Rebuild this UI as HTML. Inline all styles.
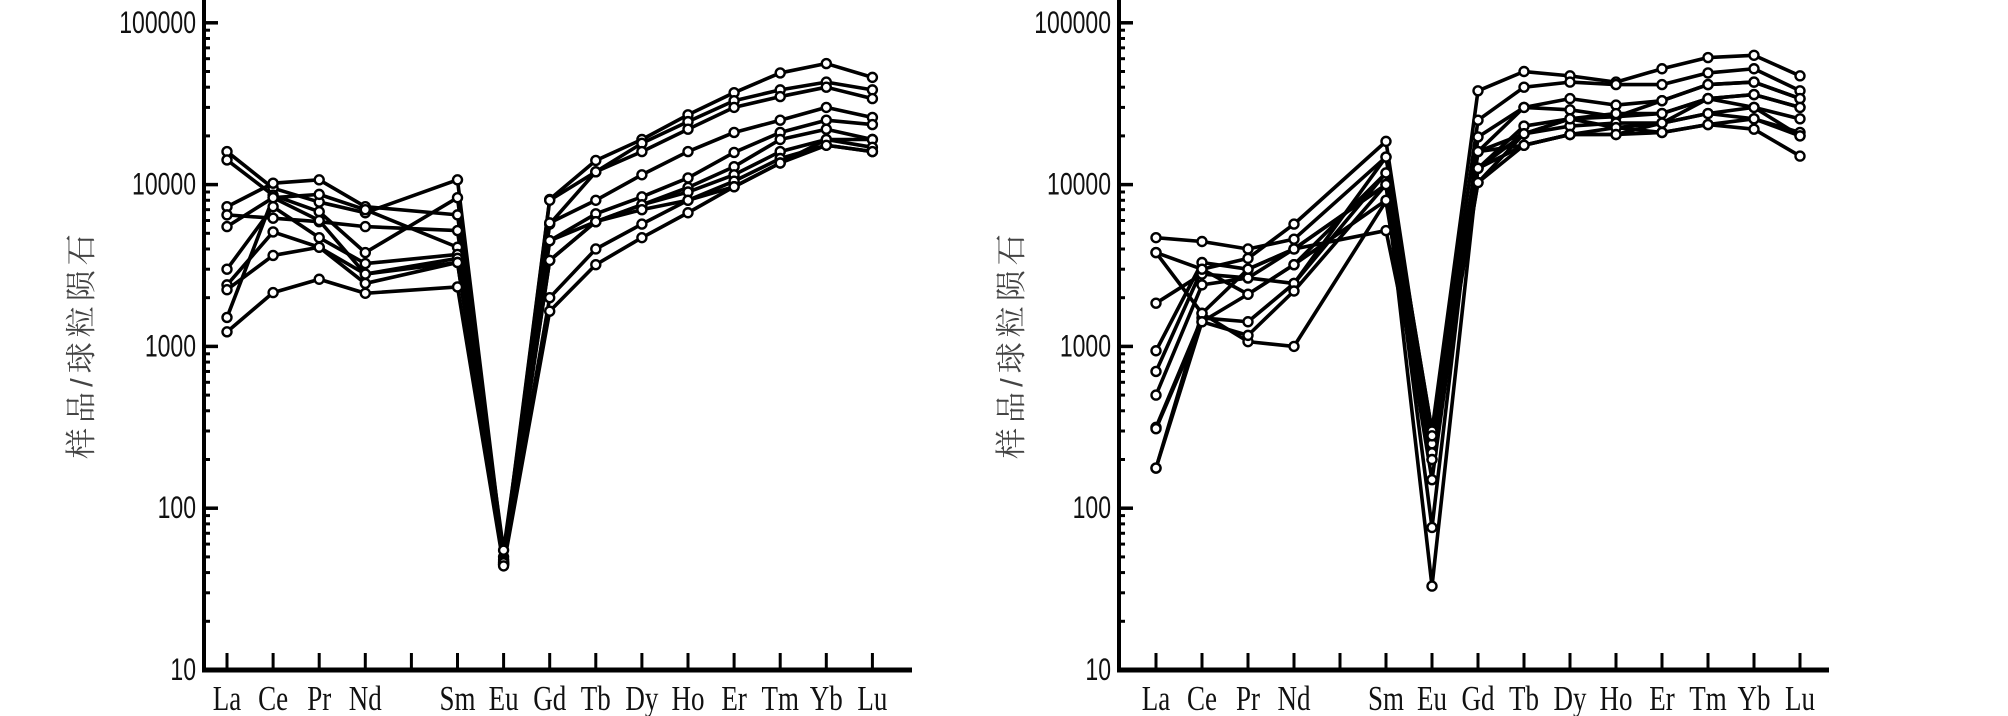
<!DOCTYPE html>
<html><head><meta charset="utf-8">
<style>
html,body{margin:0;padding:0;background:#fff;}
svg{display:block;}
.yt{font-family:"Liberation Sans",sans-serif;font-size:23px;fill:#111;}
.xt{font-family:"Liberation Serif",serif;font-size:27px;fill:#111;}
.ttl{font-family:"Liberation Sans","Noto Serif CJK SC","Noto Sans CJK SC",sans-serif;font-size:31px;fill:#444;letter-spacing:5px;}
</style></head>
<body>
<svg id="chart" width="2008" height="716" viewBox="0 0 2008 716" xmlns="http://www.w3.org/2000/svg"></svg>
<script>
const categories = ["La","Ce","Pr","Nd","","Sm","Eu","Gd","Tb","Dy","Ho","Er","Tm","Yb","Lu"];
const yTickValues = [10,100,1000,10000,100000];
const yTickLabels = ["10","100","1000","10000","100000"];
// series values: [La,Ce,Pr,Nd,Sm,Eu,Gd,Tb,Dy,Ho,Er,Tm,Yb,Lu]
const leftSeries = [
 [16000,9500,7800,6700,10700,50,8100,14100,19000,27000,37000,49000,56000,46000],
 [14200,8600,6800,3800,8300,48,8000,12000,18000,24500,33000,38500,43000,38500],
 [7300,10200,10700,7300,6500,55,5700,12000,16000,22000,30000,35000,40000,34000],
 [6500,6200,5900,5500,5200,45,5800,8000,11500,16000,21000,25000,30000,26000],
 [5500,8300,8700,7000,4100,47,4500,6600,8400,11000,15800,21000,25000,23500],
 [3000,7300,4700,3250,3700,45,4500,5900,7500,9600,12900,19000,22000,19000],
 [2400,5100,4100,2800,3500,46,3400,5900,7500,9000,11500,16000,19000,19000],
 [2240,3650,4100,2450,3300,45,3400,5900,7000,8000,10500,14500,17500,16000],
 [1510,8300,6000,2800,3300,46,2000,4000,5700,8000,9700,13600,19000,17000],
 [1230,2150,2600,2130,2330,44,1650,3200,4700,6700,9700,13600,17500,16000]
];
const rightSeries = [
 [4700,4450,4000,4600,14800,300,38000,50000,47000,43000,52000,61000,63000,47000],
 [3800,3000,3500,5700,18500,250,25000,40000,43000,41500,41500,49000,52000,38000],
 [3800,1600,1070,1000,7900,150,16000,30000,34000,31000,33000,41500,43000,34000],
 [1850,2800,2650,2450,11800,76,19700,30000,29000,26300,27500,34000,36000,30000],
 [940,3300,3000,4000,10000,33,12600,23000,25500,26300,33000,41500,43000,34000],
 [700,3000,2100,3200,11800,200,16000,20600,25500,22500,24000,27500,30000,25500],
 [500,2400,2650,4000,10000,250,10300,17500,20400,20400,21000,23500,25500,21000],
 [316,1500,1420,2450,14800,300,12600,20600,23000,24000,24000,34000,36000,30000],
 [310,1420,1170,2200,10000,280,16000,17500,20400,22500,21000,23500,22000,15000],
 [177,1600,3000,4000,5200,220,10300,20600,25500,27500,27500,34000,30000,20000],
 [177,1420,2100,3200,8000,200,12600,17500,20400,20400,24000,27500,25500,20000]
];
const seriesCatIdx = [0,1,2,3,5,6,7,8,9,10,11,12,13,14];

const NS="http://www.w3.org/2000/svg";
const svg=document.getElementById('chart');
function mk(tag,attrs,parent){const e=document.createElementNS(NS,tag);for(const k in attrs)e.setAttribute(k,attrs[k]);(parent||svg).appendChild(e);return e;}

function drawChart(cfg,series,prefix){
  const g=mk('g',{});
  
  
  const yScale=v=>cfg.bottom-(Math.log10(v)-1)*cfg.decade;
  const xScale=i=>cfg.x0+i*cfg.step;
  const ya=mk('line',{x1:cfg.axisX,y1:0,x2:cfg.axisX,y2:cfg.bottom+2,stroke:'#000','stroke-width':4},g);
  
  
  const xa=mk('line',{x1:cfg.axisX-2,y1:cfg.bottom,x2:cfg.xEnd,y2:cfg.bottom,stroke:'#000','stroke-width':5},g);
  
  
  for(let d=0;d<yTickValues.length;d++){
    const v=yTickValues[d];const y=yScale(v);
    mk('line',{x1:cfg.axisX,y1:y,x2:cfg.axisX+14,y2:y,stroke:'#000','stroke-width':3.5},g);
    const t=mk('text',{x:cfg.labelRight,y:0,'text-anchor':'end',class:'yt',transform:`translate(0,${y+10}) scale(1,1.35)`},g);
    t.textContent=yTickLabels[d];
    
    
    if(d<yTickValues.length-1){
      for(let m=2;m<=9;m++){
        const ym=yScale(v*m);
        mk('line',{x1:cfg.axisX,y1:ym,x2:cfg.axisX+6,y2:ym,stroke:'#000','stroke-width':3},g);
      }
    }
  }
  categories.forEach((c,i)=>{
    const x=xScale(i);
    mk('line',{x1:x,y1:cfg.bottom,x2:x,y2:cfg.bottom-17,stroke:'#000','stroke-width':3},g);
    if(c){
      const t=mk('text',{x:x,y:0,'text-anchor':'middle',class:'xt',transform:`translate(0,710) scale(1,1.3)`},g);
      t.textContent=c;
      
      
    }
  });
  const tt=mk('text',{x:0,y:0,'text-anchor':'middle',class:'ttl',transform:`translate(${cfg.titleX},${cfg.titleY}) rotate(-90)`},g);
  tt.textContent='样品/球粒陨石';
  
  
  series.forEach((s,si)=>{
    const pts=s.map((v,j)=>[xScale(seriesCatIdx[j]),yScale(v)]);
    const pl=mk('polyline',{points:pts.map(p=>p.join(',')).join(' '),fill:'none',stroke:'#000','stroke-width':3.6,'stroke-linejoin':'round'},g);
    
    
  });
  series.forEach((s,si)=>{
    s.forEach((v,j)=>{
      const c=mk('circle',{cx:xScale(seriesCatIdx[j]),cy:yScale(v),r:4.5,fill:'#fff',stroke:'#000','stroke-width':2.4},g);
      
      
    });
  });
}
drawChart({axisX:204,x0:227,step:46.1,xEnd:912,bottom:670,decade:161.8,labelRight:196,titleX:92,titleY:344},leftSeries,'left');
drawChart({axisX:1119,x0:1156,step:46,xEnd:1829,bottom:670,decade:161.8,labelRight:1111,titleX:1022,titleY:344},rightSeries,'right');
</script>
</body></html>
